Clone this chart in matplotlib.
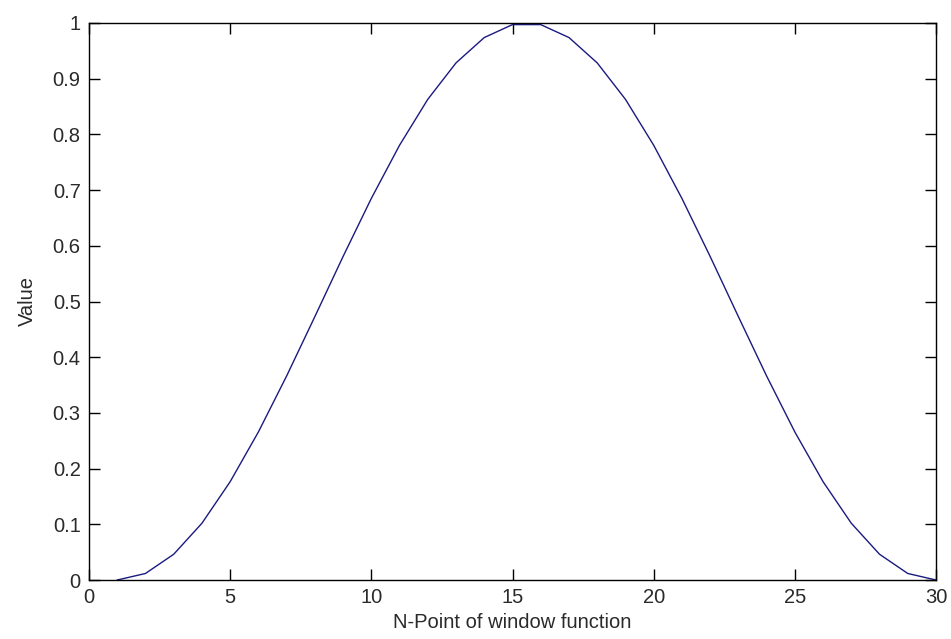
import matplotlib
matplotlib.use("Agg")
import matplotlib.pyplot as plt

# N-point window samples
n_points = list(range(1, 31))
values = [0.0, 0.0117, 0.0462, 0.1019, 0.1765, 0.2658, 0.3663, 0.4729,
          0.5809, 0.6851, 0.7806, 0.8630, 0.9284, 0.9739, 0.9971,
          0.9971, 0.9739, 0.9284, 0.8630, 0.7806, 0.6851, 0.5809,
          0.4729, 0.3663, 0.2658, 0.1765, 0.1019, 0.0462, 0.0117, 0.0]
xticks = [0, 5, 10, 15, 20, 25, 30]
yticks = [0, 0.1, 0.2, 0.3, 0.4, 0.5, 0.6, 0.7, 0.8, 0.9, 1]
ytick_labels = ["0", "0.1", "0.2", "0.3", "0.4", "0.5", "0.6", "0.7", "0.8", "0.9", "1"]

plt.rcParams['font.family'] = ['Liberation Sans', 'DejaVu Sans']
text_color = "#2a2a2a"

fig = plt.figure(figsize=(9.51, 6.39), dpi=100)
ax = fig.add_axes([89 / 951, 59 / 639, 847 / 951, 557 / 639])

ax.plot(n_points, values, color="#1a1a80", linewidth=1.0)

ax.set_xlim(0, 30)
ax.set_ylim(0, 1)
ax.set_xticks(xticks)
ax.set_yticks(yticks)
ax.set_yticklabels(ytick_labels)
ax.tick_params(direction="in", length=8, width=1, top=True, right=True,
               labelsize=14.5, colors="black", labelcolor=text_color)
ax.tick_params(axis="x", pad=6)
ax.tick_params(axis="y", pad=6)
for s in ax.spines.values():
    s.set_linewidth(1.0)
    s.set_color("black")

ax.set_xlabel("N-Point of window function", fontsize=14.5, color=text_color, labelpad=4)
ax.set_ylabel("Value", fontsize=14.5, color=text_color, labelpad=11)

fig.savefig("out.png", dpi=100)
